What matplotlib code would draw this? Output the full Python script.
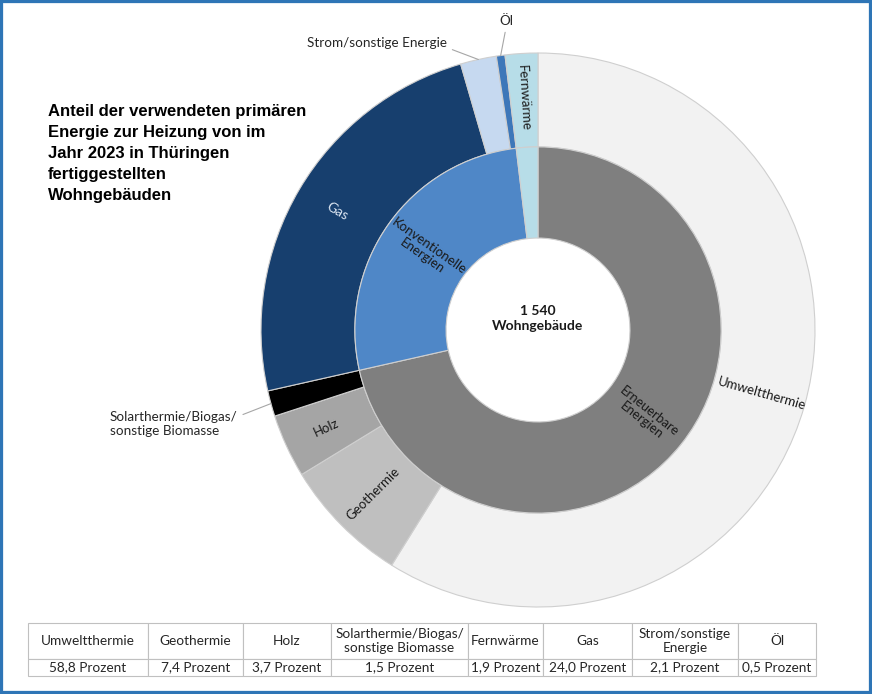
import numpy as np
import matplotlib.pyplot as plt
from matplotlib.patches import Rectangle

plt.rcParams['font.family'] = ['Lato', 'DejaVu Sans']

# outer ring, clockwise from 12 o'clock
sources = ['Umweltthermie', 'Geothermie', 'Holz',
           'Solarthermie/Biogas/\nsonstige Biomasse',
           'Gas', 'Strom/sonstige Energie', 'Öl', 'Fernwärme']
shares = [58.8, 7.4, 3.7, 1.5, 24.0, 2.1, 0.5, 1.9]
groups = ['ern', 'ern', 'ern', 'ern', 'konv', 'konv', 'konv', 'fern']
src_colors = ['#f2f2f2', '#bfbfbf', '#a5a5a5', '#000000',
              '#173f6e', '#c6d9f0', '#3d77b9', '#b7dde8']

# inner ring
group_keys = ['ern', 'konv', 'fern']
group_names = ['Erneuerbare\nEnergien', 'Konventionelle\nEnergien', '']
group_shares = [sum(s for s, g in zip(shares, groups) if g == k) for k in group_keys]
group_colors = ['#7f7f7f', '#4f87c7', '#b7dde8']

# table below the chart
table_head = ['Umweltthermie', 'Geothermie', 'Holz',
              'Solarthermie/Biogas/\nsonstige Biomasse', 'Fernwärme', 'Gas',
              'Strom/sonstige\nEnergie', 'Öl']
table_order = [0, 1, 2, 3, 7, 4, 5, 6]
table_vals = [f"{shares[i]:.1f}".replace('.', ',') + ' Prozent' for i in table_order]
col_px = [120, 95, 88, 137, 75, 89, 106, 78]

total_label = '1 540\nWohngebäude'
title = ('Anteil der verwendeten primären\nEnergie zur Heizung von im\n'
         'Jahr 2023 in Thüringen\nfertiggestellten\nWohngebäuden')

W, H = 872, 694
R_HOLE, R_MID = 0.332, 0.661


def mid_angles(vals):
    vals = np.array(vals, dtype=float)
    cum = np.cumsum(vals) - vals / 2
    return 90 - 360 * cum / vals.sum()


def readable(theta):
    return ((theta + 90) % 180) - 90


fig = plt.figure(figsize=(W / 100, H / 100), dpi=100)
ax = fig.add_axes([261 / W, 87 / H, 554 / W, 554 / H])

ax.pie(shares, radius=1, startangle=90, counterclock=False, colors=src_colors,
       wedgeprops=dict(width=1 - R_MID, edgecolor='#cfcfcf', linewidth=0.8))
ax.pie(group_shares, radius=R_MID, startangle=90, counterclock=False, colors=group_colors,
       wedgeprops=dict(width=R_MID - R_HOLE, edgecolor='#cfcfcf', linewidth=0.8))
ax.set_xlim(-1, 1)
ax.set_ylim(-1, 1)
ax.axis('off')

# labels inside outer ring
out_ang = mid_angles(shares)
r_out = (1 + R_MID) / 2 + 0.01
inside = {0: ('#1a1a1a', 9.5), 1: ('#1a1a1a', 9.5), 2: ('#1a1a1a', 9.5),
          4: ('#dce6f2', 10), 7: ('#1a1a1a', 9.5)}
for i, (col, fs) in inside.items():
    t = np.deg2rad(out_ang[i])
    ax.text(r_out * np.cos(t), r_out * np.sin(t), sources[i], color=col, fontsize=fs,
            rotation=readable(out_ang[i]), ha='center', va='center', rotation_mode='anchor')

# labels inside inner ring
in_ang = mid_angles(group_shares)
r_in = (R_MID + R_HOLE) / 2
for i, name in enumerate(group_names):
    if not name:
        continue
    t = np.deg2rad(in_ang[i])
    ax.text(r_in * np.cos(t), r_in * np.sin(t), name, color='#1a1a1a', fontsize=9.5,
            rotation=readable(in_ang[i]), ha='center', va='center',
            rotation_mode='anchor', linespacing=1.0)

# labels outside with leader lines
outside = {6: ((4, 25), (0.5, 0.0)), 5: ((-73, 12), (1.0, 0.1)), 3: ((-70, -15), (1.0, 0.8))}
for i, (off, rp) in outside.items():
    t = np.deg2rad(out_ang[i])
    ax.annotate(sources[i], xy=(np.cos(t), np.sin(t)), xytext=off, textcoords='offset points',
                fontsize=9.7, color='#262626', ha='center', va='center', multialignment='left',
                arrowprops=dict(arrowstyle='-', color='#a6a6a6', lw=0.8, relpos=rp,
                                shrinkA=2, shrinkB=0))

ax.text(0, 0.04, total_label, ha='center', va='center', fontsize=10,
        fontweight='bold', color='#1a1a1a', linespacing=1.3)

fig.text(48 / W, 1 - 104 / H, title, ha='left', va='top', fontsize=12,
         fontweight='bold', family=['Liberation Sans', 'DejaVu Sans'], linespacing=1.5)

# table
tax = fig.add_axes([28 / W, 18 / H, sum(col_px) / W, 53 / H])
tax.axis('off')
widths = [c / sum(col_px) for c in col_px]
tbl = tax.table(cellText=[table_head, table_vals], colWidths=widths,
                cellLoc='center', bbox=[0, 0, 1, 1])
tbl.auto_set_font_size(False)
tbl.set_fontsize(9.8)
for (r, c), cell in tbl.get_celld().items():
    cell.set_edgecolor('#c0c0c0')
    cell.set_linewidth(0.8)
    cell.set_height(36 if r == 0 else 17)
    cell.get_text().set_color('#262626')
    cell.get_text().set_linespacing(1.2)

fig.add_artist(Rectangle((0, 0), 1, 1, transform=fig.transFigure, fill=False,
                         edgecolor='#2e75b6', linewidth=4.5))

fig.savefig('out.png', dpi=100)
